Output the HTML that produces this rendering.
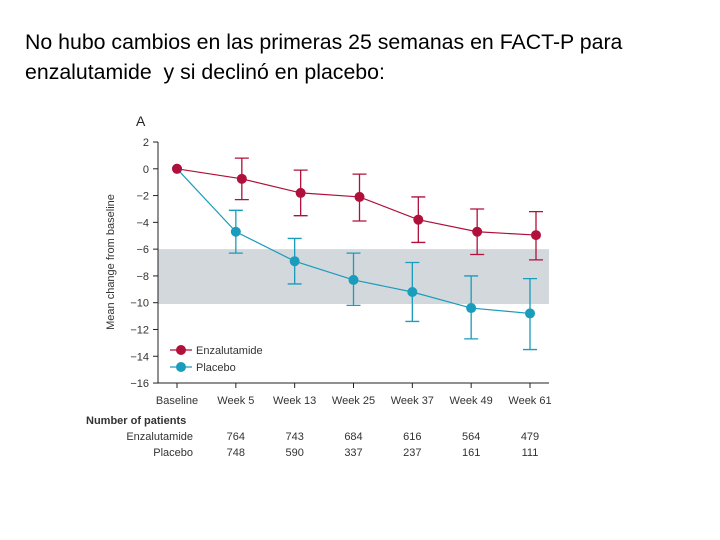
<!DOCTYPE html>
<html><head><meta charset="utf-8"><style>
body{margin:0;width:720px;height:540px;background:#fff;overflow:hidden;position:relative;font-family:"Liberation Sans",sans-serif}
#title{position:absolute;left:25px;top:27px;font-size:21.3px;line-height:30px;color:#000}
svg{position:absolute;left:0;top:0}
</style></head><body>
<div id="title">No hubo cambios en las primeras 25 semanas en FACT-P para<br>enzalutamide&nbsp; y si declinó en placebo:</div>
<svg id="chart" width="720" height="540"></svg>
<script>
const categories=["Baseline","Week 5","Week 13","Week 25","Week 37","Week 49","Week 61"];
const enzaMean=[0,-0.75,-1.8,-2.1,-3.8,-4.7,-4.95];
const enzaHi=[null,0.8,-0.1,-0.4,-2.1,-3.0,-3.2];
const enzaLo=[null,-2.3,-3.5,-3.9,-5.5,-6.4,-6.8];
const placMean=[0,-4.7,-6.9,-8.3,-9.2,-10.4,-10.8];
const placHi=[null,-3.1,-5.2,-6.3,-7.0,-8.0,-8.2];
const placLo=[null,-6.3,-8.6,-10.2,-11.4,-12.7,-13.5];
const yTicks=[2,0,-2,-4,-6,-8,-10,-12,-14,-16];
const band=[-6,-10.1];
const enzaN=["764","743","684","616","564","479"];
const placN=["748","590","337","237","161","111"];
const NS="http://www.w3.org/2000/svg",svg=document.getElementById('chart');
const xPos=[177,235,295,353,412,471,530];
const x=i=>xPos[0]+(xPos[6]-xPos[0])*i/(categories.length-1);
const y=v=>168.8-v*13.39;
function el(t,a,p){const e=document.createElementNS(NS,t);for(const k in a)e.setAttribute(k,a[k]);(p||svg).appendChild(e);return e;}
function txt(s,a,p){const e=el('text',Object.assign({'font-family':'"Liberation Sans",sans-serif','font-size':'11',fill:'#333'},a),p);e.textContent=s;return e;}
const L=158,R=549;
const b=el('rect',{x:L,y:y(band[0]),width:R-L,height:y(band[1])-y(band[0]),fill:'#d2d8dc'});


const ax=el('path',{d:`M${L} ${y(2)}V${y(-16)}H${R}`,stroke:'#222',fill:'none','stroke-width':1});


yTicks.forEach(v=>{el('line',{x1:L-5,x2:L,y1:y(v),y2:y(v),stroke:'#222'});
const t=txt(v<0?'\u2212'+(-v):String(v),{x:L-9,y:y(v)+4,'text-anchor':'end'});

});
categories.forEach((c,i)=>{el('line',{x1:x(i),x2:x(i),y1:y(-16),y2:y(-16)+5,stroke:'#222'});
const t=txt(c,{x:x(i),y:404,'text-anchor':'middle'});

});
const yt=txt('Mean change from baseline',{transform:`translate(114,262) rotate(-90)`,'text-anchor':'middle','font-size':'11'});


const pl=txt('A',{x:136,y:126,'font-size':'14',fill:'#222'});


function series(mean,hi,lo,color,off,name){
const g=el('g',{});


el('polyline',{points:mean.map((v,i)=>`${x(i)+(i?off:0)},${y(v)}`).join(' '),fill:'none',stroke:color,'stroke-width':1.2},g);
mean.forEach((v,i)=>{const cx=x(i)+(i?off:0);
if(hi[i]!==null){el('path',{d:`M${cx} ${y(hi[i])}V${y(lo[i])}M${cx-7} ${y(hi[i])}h14M${cx-7} ${y(lo[i])}h14`,stroke:color,'stroke-width':1.3,fill:'none'},g);}
const c=el('circle',{cx:cx,cy:y(v),r:5,fill:color},g);

});}
series(placMean,placHi,placLo,'#1a9cbc',0,'placebo');
series(enzaMean,enzaHi,enzaLo,'#b0103a',6,'enzalutamide');
[['Enzalutamide','#b0103a',350],['Placebo','#1a9cbc',367]].forEach(([n,c,yy])=>{
const g=el('g',{});


el('line',{x1:170,x2:192,y1:yy,y2:yy,stroke:c,'stroke-width':1.3},g);
el('circle',{cx:181,cy:yy,r:5,fill:c},g);
txt(n,{x:196,y:yy+4},g);});
const h=txt('Number of patients',{x:86,y:424,'font-weight':'bold','font-size':'11'});


const r1=txt('Enzalutamide',{x:193,y:440,'text-anchor':'end'});


const r2=txt('Placebo',{x:193,y:456,'text-anchor':'end'});


enzaN.forEach((n,i)=>{const t=txt(n,{x:x(i+1),y:440,'text-anchor':'middle'});

});
placN.forEach((n,i)=>{const t=txt(n,{x:x(i+1),y:456,'text-anchor':'middle'});

});
</script>
</body></html>
